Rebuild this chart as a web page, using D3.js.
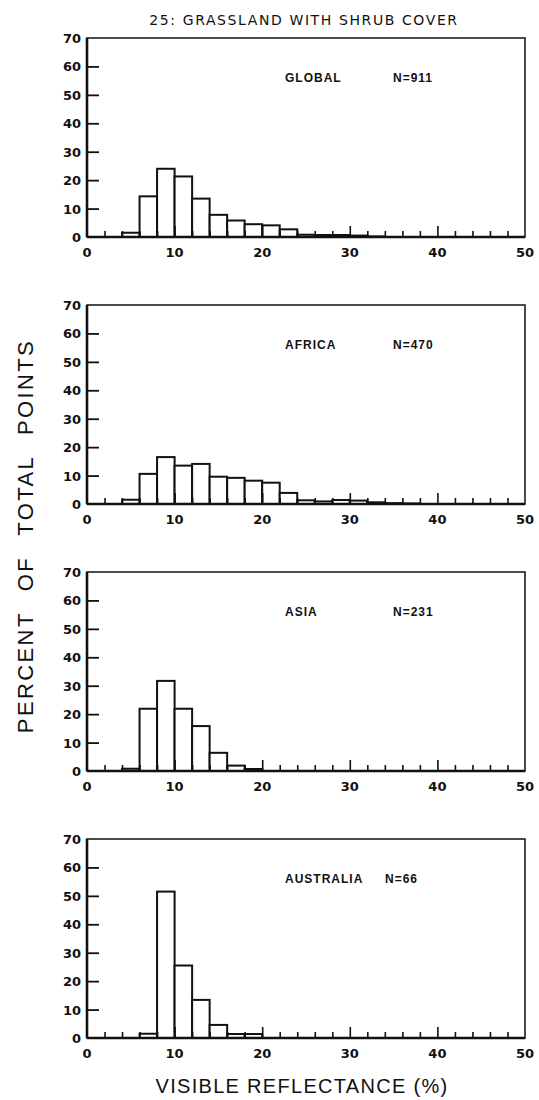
<!DOCTYPE html>
<html>
<head>
<meta charset="utf-8">
<script src="https://cdn.jsdelivr.net/npm/d3@7"></script>
<style>
  body { margin: 0; background: #fff; }
  svg { display: block; }
  text { font-family: "Liberation Sans", Arial, sans-serif; fill: #111; }
</style>
</head>
<body>
<svg id="chart" width="539" height="1100"></svg>
<script>
// bin left edges (% visible reflectance), bins are 2 wide
const bins = d3.range(0, 50, 2);

// percent of total points per bin
const global_pct    = [0, 0, 1.5, 14.3, 24, 21.3, 13.5, 7.8, 5.8, 4.5, 4.1, 2.7, 0.8, 0.7, 0.7, 0.5, 0.2, 0, 0, 0, 0, 0, 0, 0, 0];
const africa_pct    = [0, 0, 1.5, 10.6, 16.5, 13.5, 14.1, 9.6, 9.2, 8.2, 7.5, 3.9, 1.3, 0.9, 1.4, 1.2, 0.6, 0.3, 0.2, 0, 0, 0, 0, 0, 0];
const asia_pct      = [0, 0, 0.8, 21.9, 31.7, 21.9, 15.8, 6.4, 1.9, 0.7, 0, 0, 0, 0, 0, 0, 0, 0, 0, 0, 0, 0, 0, 0, 0];
const australia_pct = [0, 0, 0, 1.5, 51.5, 25.5, 13.4, 4.6, 1.4, 1.4, 0, 0, 0, 0, 0, 0, 0, 0, 0, 0, 0, 0, 0, 0, 0];

const regions = ["GLOBAL", "AFRICA", "ASIA", "AUSTRALIA"];
const counts = ["N=911", "N=470", "N=231", "N=66"];
const series = [global_pct, africa_pct, asia_pct, australia_pct];

const xTicks = [0, 10, 20, 30, 40, 50];
const yTicks = [0, 10, 20, 30, 40, 50, 60, 70];

const svg = d3.select("#chart");

const left = 87, right = 525;
const panelTop = 38, panelStep = 267, panelH = 199;

const x = d3.scaleLinear().domain([0, 50]).range([left, right]);

svg.append("text")
    .attr("x", 304).attr("y", 25)
    .attr("text-anchor", "middle")
    .style("font-family", "'DejaVu Sans', sans-serif")
    .style("font-size", "14px")
    .style("letter-spacing", "1.6px")
    .text("25: GRASSLAND WITH SHRUB COVER");

series.forEach(function (vals, i) {
    let top = panelTop + i * panelStep;
    let y = d3.scaleLinear().domain([0, 70]).range([top + panelH, top]);
    let g = svg.append("g");

    // bars
    g.selectAll("rect")
        .data(bins.map((b, j) => ({ b: b, v: vals[j] })).filter(d => d.v > 0))
        .enter()
        .append("rect")
        .attr("x", d => x(d.b))
        .attr("width", d => x(d.b + 2) - x(d.b))
        .attr("y", d => y(d.v))
        .attr("height", d => y(0) - y(d.v))
        .attr("fill", "white")
        .attr("stroke", "#111")
        .attr("stroke-width", 2);

    // frame
    g.append("rect")
        .attr("x", left).attr("y", top)
        .attr("width", right - left).attr("height", panelH)
        .attr("fill", "none")
        .attr("stroke", "#111")
        .attr("stroke-width", 1.5);
    g.append("line")
        .attr("x1", left).attr("x2", left)
        .attr("y1", top).attr("y2", top + panelH)
        .attr("stroke", "#111").attr("stroke-width", 2.6);
    g.append("line")
        .attr("x1", left).attr("x2", right)
        .attr("y1", top + panelH).attr("y2", top + panelH)
        .attr("stroke", "#111").attr("stroke-width", 2.6);

    // x axis: inward ticks every 2, longer every 10
    let xAxis = d3.axisTop(x)
        .tickValues(d3.range(2, 50, 2))
        .tickSize(0)
        .tickFormat("");
    let xa = g.append("g")
        .attr("transform", "translate(0," + (top + panelH) + ")")
        .call(xAxis);
    xa.select(".domain").remove();
    xa.selectAll(".tick line")
        .attr("y2", d => d % 10 === 0 ? -11 : -6)
        .attr("stroke", "#111")
        .attr("stroke-width", 1.6);

    g.selectAll(".xlab")
        .data(xTicks)
        .enter()
        .append("text")
        .attr("x", d => x(d))
        .attr("y", top + panelH + 20)
        .attr("text-anchor", "middle")
        .style("font-family", "'DejaVu Sans', sans-serif")
        .style("font-size", "13px")
        .style("font-weight", "bold")
        .text(d => d);

    // y axis: inward ticks every 10
    let yAxis = d3.axisRight(y)
        .tickValues(d3.range(10, 70, 10))
        .tickSize(12)
        .tickFormat("");
    let ya = g.append("g")
        .attr("transform", "translate(" + left + ",0)")
        .call(yAxis);
    ya.select(".domain").remove();
    ya.selectAll(".tick line")
        .attr("stroke", "#111")
        .attr("stroke-width", 1.8);

    g.selectAll(".ylab")
        .data(yTicks)
        .enter()
        .append("text")
        .attr("x", left - 6)
        .attr("y", d => y(d) + 5)
        .attr("text-anchor", "end")
        .style("font-family", "'DejaVu Sans', sans-serif")
        .style("font-size", "13px")
        .style("font-weight", "bold")
        .text(d => d);

    // region label and sample size
    g.append("text")
        .attr("x", 285).attr("y", top + 44)
        .style("font-size", "12px")
        .style("font-weight", "bold")
        .style("letter-spacing", "1px")
        .text(regions[i]);
    g.append("text")
        .attr("x", i === 3 ? 385 : 393).attr("y", top + 44)
        .style("font-size", "12px")
        .style("font-weight", "bold")
        .style("letter-spacing", "1px")
        .text(counts[i]);
});

svg.append("text")
    .attr("transform", "translate(33,536) rotate(-90)")
    .attr("text-anchor", "middle")
    .style("font-size", "22px")
    .style("letter-spacing", "2.4px")
    .style("word-spacing", "12px")
    .text("PERCENT OF TOTAL POINTS");

svg.append("text")
    .attr("x", 302).attr("y", 1093)
    .attr("text-anchor", "middle")
    .style("font-size", "20px")
    .style("letter-spacing", "1.3px")
    .text("VISIBLE REFLECTANCE (%)");
</script>
</body>
</html>
